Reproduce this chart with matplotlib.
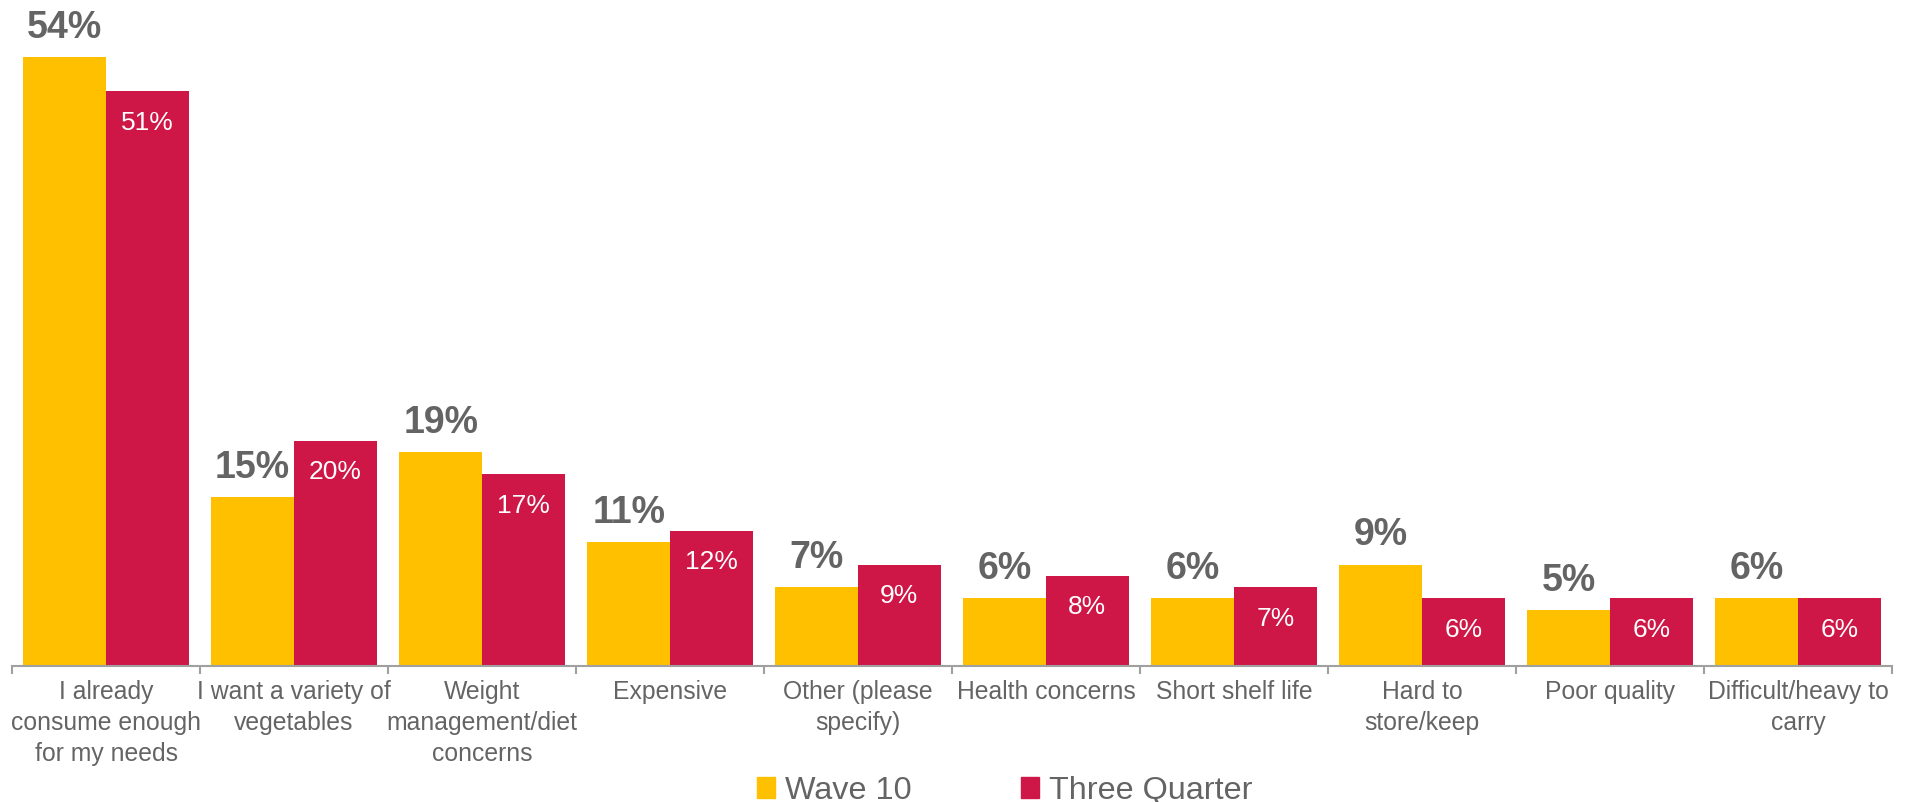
import numpy as np
import matplotlib
matplotlib.use("Agg")
import matplotlib.pyplot as plt
from matplotlib.patches import Patch

plt.rcParams['font.family'] = ['Liberation Sans', 'DejaVu Sans']

categories = [
    "I already\nconsume enough\nfor my needs",
    "I want a variety of\nvegetables",
    "Weight\nmanagement/diet\nconcerns",
    "Expensive",
    "Other (please\nspecify)",
    "Health concerns",
    "Short shelf life",
    "Hard to\nstore/keep",
    "Poor quality",
    "Difficult/heavy to\ncarry",
]
wave10 = [54, 15, 19, 11, 7, 6, 6, 9, 5, 6]
three_quarter = [51, 20, 17, 12, 9, 8, 7, 6, 6, 6]
series_names = ["Wave 10", "Three Quarter"]

YELLOW = "#FFC000"
RED = "#CE1647"
GRAY = "#646464"

fig = plt.figure(figsize=(19.10, 8.02), dpi=100)
ax = fig.add_axes([12 / 1910, 1 - 666 / 802, 1880 / 1910, 666 / 802])

x = np.arange(len(categories))
w = 0.44
b1 = ax.bar(x - w / 2, wave10, w, color=YELLOW)
b2 = ax.bar(x + w / 2, three_quarter, w, color=RED)

for rect, v in zip(b1, wave10):
    ax.annotate(f"{v}%", (rect.get_x() + rect.get_width() / 2, rect.get_height()),
                xytext=(0, 8), textcoords="offset points", ha="center", va="bottom",
                fontsize=27, fontweight="bold", color=GRAY)
for rect, v in zip(b2, three_quarter):
    ax.annotate(f"{v}%", (rect.get_x() + rect.get_width() / 2, rect.get_height()),
                xytext=(0, -14), textcoords="offset points", ha="center", va="top",
                fontsize=19, color="white")

ax.set_xlim(-0.5, len(categories) - 0.5)
ax.set_ylim(0, 666 / 11.27)

for s in ["top", "right", "left"]:
    ax.spines[s].set_visible(False)
ax.spines["bottom"].set_color("#A0A0A0")
ax.spines["bottom"].set_linewidth(1.5)
ax.set_yticks([])

ax.set_xticks(x)
ax.set_xticklabels(categories, fontsize=17.8, color=GRAY, linespacing=1.36)
ax.tick_params(axis="x", which="major", length=0, pad=10)
ax.set_xticks(np.arange(-0.5, len(categories)), minor=True)
ax.tick_params(axis="x", which="minor", length=6, width=1.5, color="#A0A0A0", direction="out")

handles = [Patch(color=YELLOW), Patch(color=RED)]
fig.legend(handles, series_names, loc="center", bbox_to_anchor=(0.526, 0.014), ncol=2,
           frameon=False, fontsize=23.3, handlelength=0.55, handleheight=0.6,
           handletextpad=0.3, columnspacing=3.4, labelcolor=GRAY)

fig.savefig("out.png", dpi=100)
